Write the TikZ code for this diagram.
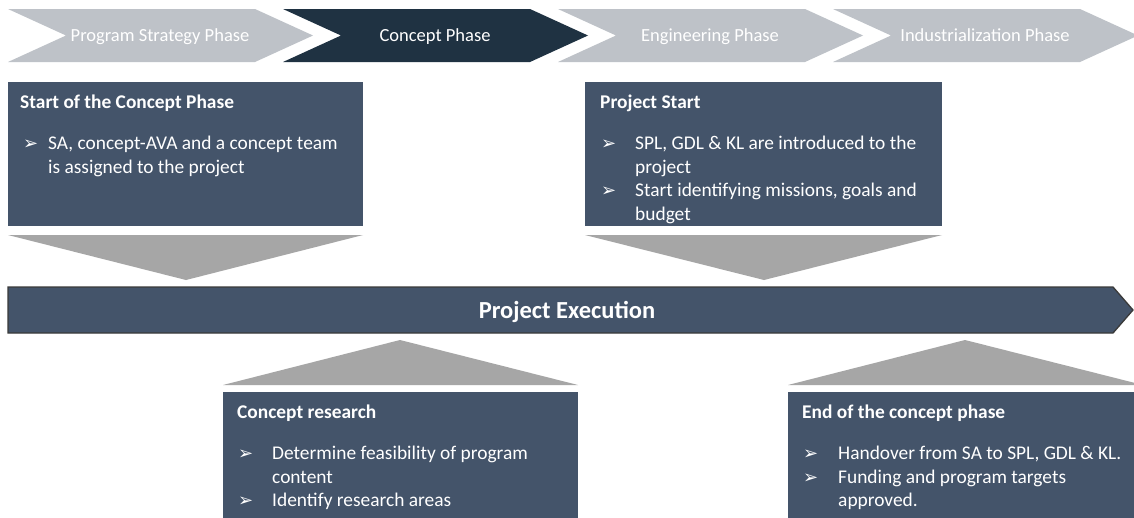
\documentclass[tikz,border=0pt]{standalone}
\usepackage{fontspec}
\setmainfont{Carlito}
\newfontfamily\symfont{DejaVu Sans}
\definecolor{chevgray}{HTML}{BEC2C8}
\definecolor{chevdark}{HTML}{1F3242}
\definecolor{boxblue}{HTML}{44546A}
\definecolor{trigray}{HTML}{A6A6A6}
\definecolor{barline}{HTML}{3A3A3A}
\begin{document}
\begin{tikzpicture}[x=1pt,y=-1pt,
  chevtext/.style={anchor=base,inner sep=0,text=white,font=\fontsize{18.5}{22}\selectfont},
  infobox/.style={rectangle,fill=boxblue,draw=none,anchor=north west,inner sep=0},
  pointer/.style={fill=trigray},
  boxtitle/.style={anchor=base west,inner sep=0,text=white,font=\fontsize{19.4}{23.7}\selectfont\bfseries},
  boxtext/.style={anchor=base west,inner sep=0,text=white,font=\fontsize{19.4}{23.7}\selectfont},
  bulletmark/.style={anchor=base west,inner sep=0,text=white,font=\fontsize{18}{20}\symfont},
  bartext/.style={anchor=base,inner sep=0,text=white,font=\fontsize{24.5}{28}\selectfont\bfseries}]
\clip (0,0) rectangle (1134,517);
\fill[white] (0,0) rectangle (1134,517);
% phase chevrons
\foreach \L/\col in {8/chevgray,283/chevdark,558/chevgray,833/chevgray}
  \fill[\col] (\L,9) -- ++(247,0) -- ++(58,26.5) -- ++(-58,26.5) -- ++(-247,0) -- ++(58,-26.5) -- cycle;
\node[chevtext] (c1) at (160,41.5) {Program Strategy Phase};
\node[chevtext] (c2) at (435,41.5) {Concept Phase};
\node[chevtext] (c3) at (710,41.5) {Engineering Phase};
\node[chevtext] (c4) at (985,41.5) {Industrialization Phase};
% upper boxes
\node[infobox,minimum width=355pt,minimum height=144pt] (box1) at (8,82) {};
\node[infobox,minimum width=357pt,minimum height=144pt] (box2) at (585,82) {};
% pointers
\fill[pointer] (8,235) -- (363,235) -- (186,280) -- cycle;
\fill[pointer] (585,235) -- (942,235) -- (764,280) -- cycle;
\fill[pointer] (223,385) -- (578,385) -- (400,340) -- cycle;
\fill[pointer] (788,385) -- (1143,385) -- (965,340) -- cycle;
% bar
\filldraw[fill=boxblue,draw=barline,line width=1.3pt,line join=miter]
  (8,287) -- (1113,287) -- (1133,310) -- (1113,333) -- (8,333) -- cycle;
\node[bartext] (bar) at (567,318) {Project Execution};
% lower boxes
\node[infobox,minimum width=355pt,minimum height=140pt] (box3) at (223,392) {};
\node[infobox,minimum width=355pt,minimum height=140pt] (box4) at (788,392) {};
% box 1 text
\node[boxtitle] (t1) at (20,108) {Start of the Concept Phase};
\node[bulletmark] (m11) at (23,149.5) {➢};
\node[boxtext] (l11) at (48,149.5) {SA, concept-AVA and a concept team};
\node[boxtext] (l12) at (48,173.2) {is assigned to the project};
% box 2 text
\node[boxtitle] (t2) at (600,108) {Project Start};
\node[bulletmark] (m21) at (601,149.5) {➢};
\node[boxtext] (l21) at (635,149.5) {SPL, GDL \& KL are introduced to the};
\node[boxtext] (l22) at (635,173.2) {project};
\node[bulletmark] (m22) at (601,196.9) {➢};
\node[boxtext] (l23) at (635,196.9) {Start identifying missions, goals and};
\node[boxtext] (l24) at (635,220.6) {budget};
% box 3 text
\node[boxtitle] (t3) at (237,418.5) {Concept research};
\node[bulletmark] (m31) at (238,459.5) {➢};
\node[boxtext] (l31) at (272,459.5) {Determine feasibility of program};
\node[boxtext] (l32) at (272,483.2) {content};
\node[bulletmark] (m32) at (238,506.9) {➢};
\node[boxtext] (l33) at (272,506.9) {Identify research areas};
% box 4 text
\node[boxtitle] (t4) at (802,418.5) {End of the concept phase};
\node[bulletmark] (m41) at (803,459.5) {➢};
\node[boxtext] (l41) at (838,459.5) {Handover from SA to SPL, GDL \& KL.};
\node[bulletmark] (m42) at (803,483.2) {➢};
\node[boxtext] (l42) at (838,483.2) {Funding and program targets};
\node[boxtext] (l43) at (838,506.9) {approved.};
\end{tikzpicture}
\end{document}
